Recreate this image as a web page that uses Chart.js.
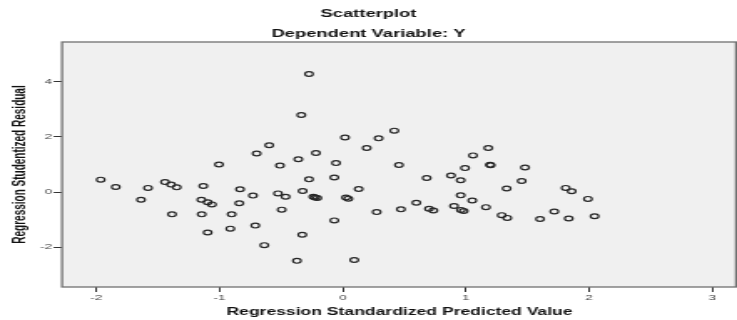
<!DOCTYPE html>
<html>
<head>
<meta charset="utf-8">
<script src="https://cdn.jsdelivr.net/npm/chart.js@4"></script>
<style>
  html, body { margin: 0; padding: 0; background: #fff; overflow: hidden; }
  /* the reference is an SPSS plot stretched sideways, so draw narrow and stretch */
  #wrap { width: 441px; height: 320px; transform: scaleX(1.6712); transform-origin: 0 0; }
</style>
</head>
<body>
<div id="wrap"><canvas id="myChart" width="441" height="320"></canvas></div>
<script>
const predicted = [
  -1.965, -1.843, -1.638, -1.581, -1.443, -1.394, -1.386, -1.348, -1.148, -1.145,
  -1.132, -1.097, -1.097, -1.062, -1.005, -0.913, -0.902, -0.840, -0.834, -0.729,
  -0.710, -0.699, -0.637, -0.597, -0.526, -0.510, -0.496, -0.464, -0.372, -0.361,
  -0.337, -0.329, -0.326, -0.274, -0.274, -0.239, -0.225, -0.218, -0.207, -0.069,
  -0.069, -0.055, 0.018, 0.026, 0.045, 0.093, 0.129, 0.194, 0.275, 0.291,
  0.418, 0.456, 0.472, 0.597, 0.681, 0.700, 0.735, 0.878, 0.903, 0.957,
  0.957, 0.959, 0.981, 0.992, 1.051, 1.057, 1.162, 1.181, 1.195, 1.200,
  1.290, 1.330, 1.335, 1.452, 1.479, 1.601, 1.717, 1.809, 1.834, 1.858,
  1.990, 2.044
]
const residual = [
  0.45, 0.18, -0.28, 0.15, 0.36, 0.27, -0.81, 0.17, -0.28, -0.81,
  0.22, -0.37, -1.47, -0.45, 1.00, -1.33, -0.81, -0.41, 0.10, -0.13,
  -1.22, 1.40, -1.93, 1.70, -0.05, 0.96, -0.64, -0.17, -2.50, 1.19,
  2.80, -1.55, 0.04, 4.29, 0.46, -0.17, -0.20, 1.42, -0.22, 0.53,
  -1.03, 1.05, 1.98, -0.20, -0.24, -2.47, 0.11, 1.60, -0.73, 1.95,
  2.23, 0.98, -0.63, -0.39, 0.51, -0.61, -0.67, 0.60, -0.51, 0.43,
  -0.12, -0.65, -0.69, 0.87, -0.31, 1.33, -0.55, 1.60, 0.99, 0.97,
  -0.84, 0.13, -0.94, 0.40, 0.89, -0.98, -0.71, 0.15, -0.96, 0.03,
  -0.25, -0.88
]
const xTicks = [-2, -1, 0, 1, 2, 3]
const yTicks = [-2, 0, 2, 4]

const points = predicted.map((x, i) => ({x: x, y: residual[i]}))

// grey plot background and frame
const plotBox = {
  id: 'plotBox',
  beforeDatasetsDraw(chart) {
    const {ctx, chartArea: a} = chart
    ctx.save()
    ctx.fillStyle = '#f0f0f0'
    ctx.fillRect(a.left, a.top, a.right - a.left, a.bottom - a.top)
    ctx.restore()
  },
  afterDatasetsDraw(chart) {
    const {ctx, chartArea: a} = chart
    ctx.save()
    ctx.strokeStyle = '#707070'
    ctx.lineWidth = 1.3
    ctx.strokeRect(a.left, a.top, a.right - a.left - 0.6, a.bottom - a.top)
    ctx.restore()
  }
}

const font = 'Liberation Sans, Arial, sans-serif'

new Chart(document.getElementById('myChart'), {
  type: 'scatter',
  data: {
    datasets: [{
      data: points,
      pointStyle: 'circle',
      pointRadius: 2.4,
      pointBorderWidth: 1.2,
      pointBorderColor: '#262626',
      pointBackgroundColor: 'rgba(0,0,0,0)',
      pointHoverRadius: 2.4
    }]
  },
  options: {
    responsive: false,
    animation: false,
    devicePixelRatio: 1,
    layout: { padding: 0, autoPadding: false },
    plugins: {
      legend: { display: false },
      tooltip: { enabled: false },
      title: {
        display: true,
        text: 'Scatterplot',
        color: '#111',
        font: { family: font, size: 11, weight: 'bold', lineHeight: 1.2 },
        padding: { top: 7.4, bottom: 6.8 }
      },
      subtitle: {
        display: true,
        text: 'Dependent Variable: Y',
        color: '#111',
        font: { family: font, size: 11, weight: 'bold', lineHeight: 1.2 },
        padding: { top: 0, bottom: 1.4 }
      }
    },
    scales: {
      x: {
        type: 'linear',
        min: -2.279,
        max: 3.2,
        afterFit(scale) {
          scale.height = 33
          scale.paddingLeft = 0
          scale.paddingRight = 0
        },
        afterBuildTicks(scale) { scale.ticks = xTicks.map(v => ({value: v})) },
        border: { display: false },
        grid: { drawOnChartArea: false, drawTicks: true, tickLength: 5, color: '#333', lineWidth: 1 },
        ticks: { color: '#444', font: { family: font, size: 8 }, padding: 0.5, maxRotation: 0 },
        title: {
          display: true,
          text: 'Regression Standardized Predicted Value',
          color: '#111',
          font: { family: font, size: 10.5, weight: 'bold', lineHeight: 1.2 },
          padding: { top: 0, bottom: 2 }
        }
      },
      y: {
        type: 'linear',
        min: -3.45,
        max: 5.45,
        afterFit(scale) {
          scale.width = 37.1
          scale.paddingTop = 0
          scale.paddingBottom = 0
        },
        afterBuildTicks(scale) { scale.ticks = yTicks.map(v => ({value: v})) },
        border: { display: false },
        grid: { drawOnChartArea: false, drawTicks: true, tickLength: 5, color: '#333', lineWidth: 1 },
        ticks: { color: '#444', font: { family: font, size: 8 }, padding: 1 },
        title: {
          display: true,
          text: 'Regression Studentized Residual',
          color: '#111',
          font: { family: font, size: 10, weight: 'bold', lineHeight: 1.2 },
          padding: { top: 6.5, bottom: 0 }
        }
      }
    }
  },
  plugins: [plotBox]
})
</script>
</body>
</html>
